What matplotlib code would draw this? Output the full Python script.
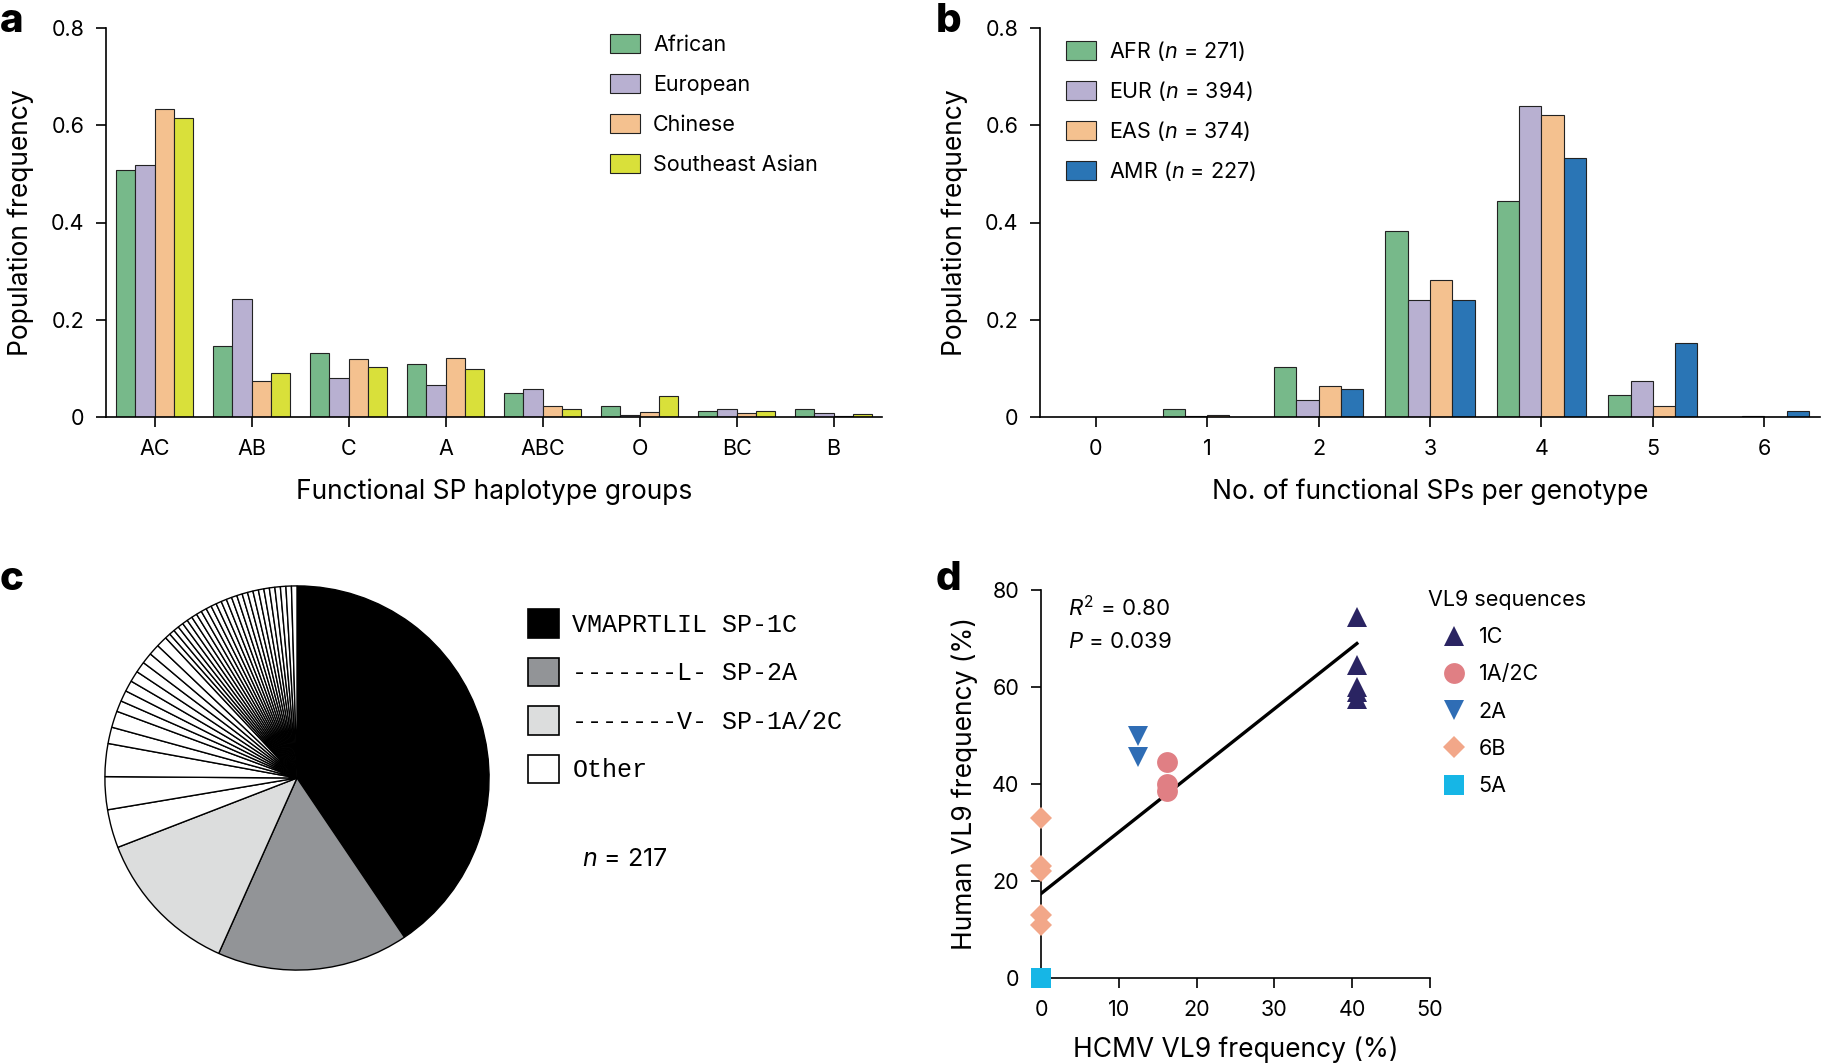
import numpy as np
import matplotlib
matplotlib.use("Agg")
import matplotlib.pyplot as plt
from matplotlib.patches import Patch
from matplotlib.lines import Line2D

plt.rcParams['font.family'] = ['Inter', 'Liberation Sans', 'DejaVu Sans']
plt.rcParams['mathtext.fontset'] = 'custom'
plt.rcParams['mathtext.rm'] = 'Inter'
plt.rcParams['mathtext.it'] = 'Inter:italic'

# ---- data ----
# panel a
hap_groups = ["AC", "AB", "C", "A", "ABC", "O", "BC", "B"]
pop_names = ["African", "European", "Chinese", "Southeast Asian"]
african = [0.507, 0.147, 0.131, 0.108, 0.049, 0.022, 0.013, 0.016]
european = [0.519, 0.243, 0.080, 0.065, 0.057, 0.004, 0.016, 0.008]
chinese = [0.633, 0.075, 0.119, 0.121, 0.022, 0.010, 0.008, 0.003]
se_asian = [0.615, 0.090, 0.103, 0.098, 0.016, 0.043, 0.012, 0.007]

# panel b
n_sps = [0, 1, 2, 3, 4, 5, 6]
sup_names = ["AFR", "EUR", "EAS", "AMR"]
sup_n = [271, 394, 374, 227]
afr = [0.0, 0.017, 0.102, 0.383, 0.445, 0.046, 0.0]
eur = [0.0, 0.002, 0.034, 0.240, 0.639, 0.075, 0.003]
eas = [0.0, 0.005, 0.063, 0.282, 0.622, 0.023, 0.0]
amr = [0.0, 0.0, 0.057, 0.241, 0.532, 0.153, 0.012]

# panel c (counts out of n = 217)
vl9_main_labels = ["VMAPRTLIL SP-1C", "-------L- SP-2A", "-------V- SP-1A/2C", "Other"]
vl9_main_counts = [88, 35, 27]
other_counts = [7, 6, 6, 3, 3, 2, 2, 2, 2, 2, 2, 2, 2] + [1] * 26

# panel d
seq_names = ["1C", "1A/2C", "2A", "6B", "5A"]
hcmv_freq = {"1C": [40.6] * 5, "1A/2C": [16.2] * 3, "2A": [12.5] * 2,
             "6B": [0] * 5, "5A": [0]}
human_freq = {"1C": [74.5, 64.5, 60.0, 59.0, 57.5], "1A/2C": [44.5, 40.0, 38.5],
              "2A": [50.0, 45.5], "6B": [33.0, 23.0, 22.0, 13.0, 11.0], "5A": [0.0]}
fit_intercept, fit_slope = 17.4, 1.27

# ---- style ----
bar_cols = ["#77b98a", "#b8b0d1", "#f4c18f", "#d9e03a"]
sup_cols = ["#77b98a", "#b8b0d1", "#f4c18f", "#2a75b5"]
pie_cols = ["#000000", "#929497", "#dcdddd", "#ffffff"]
seq_cols = ["#2a2462", "#e07f84", "#2f6db5", "#f2a789", "#16b6e6"]
seq_marks = ["^", "o", "v", "D", "s"]
seq_ms = [15, 15, 15, 11, 14]

W, H = 1821, 1063
fig = plt.figure(figsize=(W / 100, H / 100), dpi=100)


def box(x0, y0, x1, y1):
    return [x0 / W, 1 - y1 / H, (x1 - x0) / W, (y1 - y0) / H]


TICK_FS = 15.5
LAB_FS = 19
LEG_FS = 15.5


def style_axes(ax):
    for s in ["top", "right"]:
        ax.spines[s].set_visible(False)
    for s in ["left", "bottom"]:
        ax.spines[s].set_linewidth(1.2)
    ax.tick_params(labelsize=TICK_FS, length=7.5, width=1.2, pad=8)


# ---- panel a ----
ax_a = fig.add_axes(box(106, 28, 882, 417))
x = np.arange(len(hap_groups))
for i, vals in enumerate([african, european, chinese, se_asian]):
    ax_a.bar(x + (i - 1.5) * 0.2, vals, width=0.2, color=bar_cols[i],
             edgecolor="#222222", linewidth=0.8, label=pop_names[i])
ax_a.set_xlim(-0.5, 7.5)
ax_a.set_ylim(0, 0.8)
ax_a.set_xticks(x)
ax_a.set_xticklabels(hap_groups)
ax_a.set_yticks([0, 0.2, 0.4, 0.6, 0.8])
ax_a.set_yticklabels(["0", "0.2", "0.4", "0.6", "0.8"])
style_axes(ax_a)
ax_a.set_xlabel("Functional SP haplotype groups", fontsize=LAB_FS, labelpad=14.5)
ax_a.set_ylabel("Population frequency", fontsize=LAB_FS, labelpad=12)
ax_a.legend(loc="upper left", bbox_to_anchor=(610 / W, 1 - 34 / H),
            bbox_transform=fig.transFigure, frameon=False, fontsize=LEG_FS,
            borderpad=0, borderaxespad=0, handlelength=1.4, handleheight=0.95,
            labelspacing=0.9, handletextpad=0.6)

# ---- panel b ----
ax_b = fig.add_axes(box(1040, 28, 1820, 417))
xb = np.arange(len(n_sps))
for i, vals in enumerate([afr, eur, eas, amr]):
    ax_b.bar(xb + (i - 1.5) * 0.2, vals, width=0.2, color=sup_cols[i],
             edgecolor="#222222", linewidth=0.8,
             label=f"{sup_names[i]} ($n$ = {sup_n[i]})")
ax_b.set_xlim(-0.5, 6.5)
ax_b.set_ylim(0, 0.8)
ax_b.set_xticks(xb)
ax_b.set_xticklabels([str(v) for v in n_sps])
ax_b.set_yticks([0, 0.2, 0.4, 0.6, 0.8])
ax_b.set_yticklabels(["0", "0.2", "0.4", "0.6", "0.8"])
style_axes(ax_b)
ax_b.set_xlabel("No. of functional SPs per genotype", fontsize=LAB_FS, labelpad=14.5)
ax_b.set_ylabel("Population frequency", fontsize=LAB_FS, labelpad=12)
ax_b.legend(loc="upper left", bbox_to_anchor=(1066 / W, 1 - 39 / H),
            bbox_transform=fig.transFigure, frameon=False, fontsize=LEG_FS,
            borderpad=0, borderaxespad=0, handlelength=1.4, handleheight=0.95,
            labelspacing=0.74, handletextpad=0.6)

# ---- panel c ----
ax_c = fig.add_axes(box(103, 584, 491, 972))
pie_vals = vl9_main_counts + other_counts
pie_colors = pie_cols[:3] + [pie_cols[3]] * len(other_counts)
ax_c.pie(pie_vals, colors=pie_colors, startangle=90, counterclock=False,
         wedgeprops=dict(edgecolor="black", linewidth=1.0))
ax_c.set_xlim(-1.01, 1.01)
ax_c.set_ylim(-1.01, 1.01)
handles_c = [Patch(facecolor=c, edgecolor="black", linewidth=1.2) for c in pie_cols]
fig.legend(handles_c, vl9_main_labels, loc="upper left",
           bbox_to_anchor=(528 / W, 1 - 609 / H), frameon=False,
           prop={"family": "Liberation Mono", "size": 18},
           borderpad=0, borderaxespad=0, handlelength=1.23, handleheight=1.38,
           labelspacing=0.8, handletextpad=0.55)
fig.text(582 / W, 1 - 860 / H, "$n$ = 217", fontsize=18, va="center")

# ---- panel d ----
ax_d = fig.add_axes(box(1041, 590, 1430, 978))
for i, name in enumerate(seq_names):
    ax_d.plot(hcmv_freq[name], human_freq[name], linestyle="none",
              marker=seq_marks[i], ms=seq_ms[i], color=seq_cols[i],
              markeredgewidth=0, clip_on=False, zorder=3)
xf = np.array([0, 40.6])
ax_d.plot(xf, fit_intercept + fit_slope * xf, color="black", lw=2.4, zorder=2)
ax_d.set_xlim(0, 50)
ax_d.set_ylim(0, 80)
ax_d.set_xticks([0, 10, 20, 30, 40, 50])
ax_d.set_yticks([0, 20, 40, 60, 80])
style_axes(ax_d)
ax_d.set_xlabel("HCMV VL9 frequency (%)", fontsize=LAB_FS, labelpad=12.5)
ax_d.set_ylabel("Human VL9 frequency (%)", fontsize=LAB_FS, labelpad=10)
ax_d.text(0.07, 0.955, "$R^2$ = 0.80", transform=ax_d.transAxes,
          fontsize=16, va="center")
ax_d.text(0.07, 0.865, "$P$ = 0.039", transform=ax_d.transAxes,
          fontsize=16, va="center")
handles_d = [Line2D([], [], linestyle="none", marker=seq_marks[i],
                    ms=seq_ms[i], color=seq_cols[i], markeredgewidth=0)
             for i in range(len(seq_names))]
leg_d = fig.legend(handles_d, seq_names, loc="upper left",
                   bbox_to_anchor=(1428 / W, 1 - 590 / H), frameon=False,
                   fontsize=LEG_FS, title="VL9 sequences",
                   title_fontsize=LEG_FS, borderpad=0, borderaxespad=0,
                   handlelength=2.45, labelspacing=0.8, handletextpad=-0.1)
leg_d._legend_box.align = "left"

# ---- panel letters ----
for lab, (lx, ly) in zip("abcd", [(0, 22), (936, 22), (0, 580), (936, 580)]):
    fig.text(lx / W, 1 - ly / H, lab, fontsize=29, fontweight="heavy", va="center")

fig.savefig("out.png", dpi=100)
